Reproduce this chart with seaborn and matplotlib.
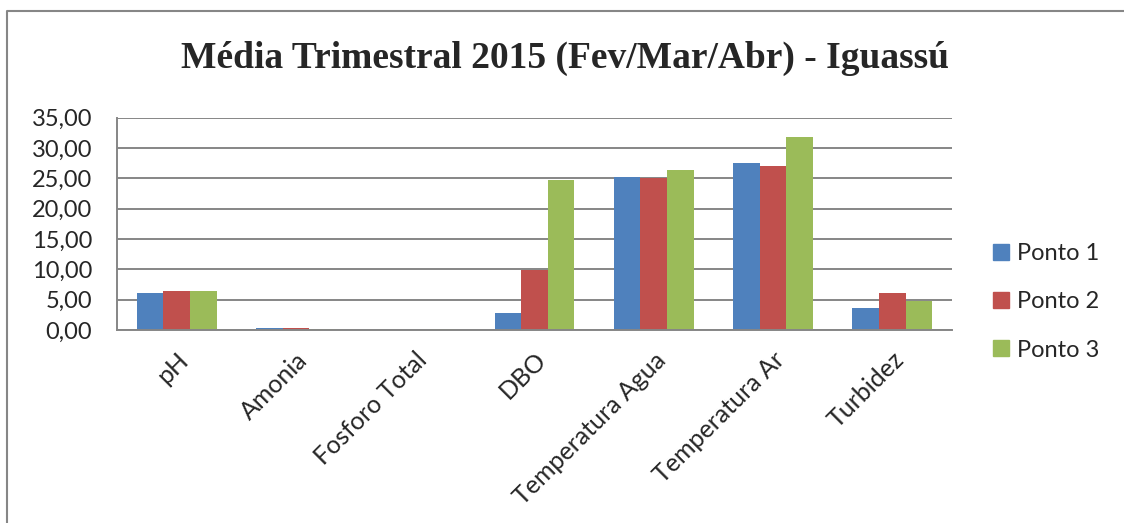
import pandas as pd
import numpy as np
import seaborn as sns
import matplotlib.pyplot as plt
from matplotlib.lines import Line2D

# chart values
parametros = ['pH', 'Amonia', 'Fosforo Total', 'DBO', 'Temperatura Agua', 'Temperatura Ar', 'Turbidez']
ponto_1 = [6.15, 0.28, 0.05, 2.75, 25.2, 27.5, 3.6]
ponto_2 = [6.45, 0.28, 0.03, 9.95, 25.1, 27.0, 6.1]
ponto_3 = [6.45, 0.15, 0.10, 24.8, 26.3, 31.9, 4.8]
pontos = ['Ponto 1', 'Ponto 2', 'Ponto 3']
cores = ['#4F81BD', '#C0504D', '#9BBB59']
y_ticks = [0, 5, 10, 15, 20, 25, 30, 35]

df = pd.DataFrame({'Parametro': parametros, 'Ponto 1': ponto_1, 'Ponto 2': ponto_2, 'Ponto 3': ponto_3})
df_long = df.melt(id_vars='Parametro', var_name='Ponto', value_name='Media')

sns.set_style('white')
plt.rcParams['font.family'] = ['Lato', 'DejaVu Sans']

fig = plt.figure(figsize=(11.24, 5.23), dpi=100)
ax = fig.add_axes([117 / 1124, 1 - 330 / 523, (952 - 117) / 1124, (330 - 117.7) / 523])

sns.barplot(data=df_long, x='Parametro', y='Media', hue='Ponto', hue_order=pontos,
            palette=cores, width=0.67, saturation=1, linewidth=0, ax=ax, legend=False)

grid_col = '#868686'
ax.set_ylim(0, 35)
ax.set_yticks(y_ticks)
ax.set_yticklabels([f'{v:.2f}'.replace('.', ',') for v in y_ticks])
ax.yaxis.grid(True, color=grid_col, linewidth=1.4)
ax.set_axisbelow(True)
ax.set_xlabel('')
ax.set_ylabel('')
for s in ['top', 'right']:
    ax.spines[s].set_visible(False)
for s in ['left', 'bottom']:
    ax.spines[s].set_color(grid_col)
    ax.spines[s].set_linewidth(1.4)
ax.tick_params(axis='y', length=0, pad=18, labelsize=17)
ax.tick_params(axis='x', length=0, pad=13, labelsize=18)
plt.setp(ax.get_xticklabels(), rotation=45, ha='right', rotation_mode='anchor')

handles = [plt.Rectangle((0, 0), 1, 1, color=c) for c in cores]
fig.legend(handles, pontos, loc='center left', bbox_to_anchor=(972 / 1124, 1 - 302 / 523),
           frameon=False, fontsize=17, handlelength=0.65, handleheight=0.65,
           handletextpad=0.35, labelspacing=1.15)

fig.suptitle('Média Trimestral 2015 (Fev/Mar/Abr) - Iguassú', x=565 / 1124, y=1 - 58 / 523,
             va='center', fontsize=27, fontweight='bold', family='Liberation Serif')

# outer chart frame (left and top edges visible)
fig.add_artist(Line2D([7 / 1124, 7 / 1124, 1.0], [0.0, 1 - 11 / 523, 1 - 11 / 523],
                      transform=fig.transFigure, color=grid_col, linewidth=1.5))

fig.savefig('out.png', dpi=100)
